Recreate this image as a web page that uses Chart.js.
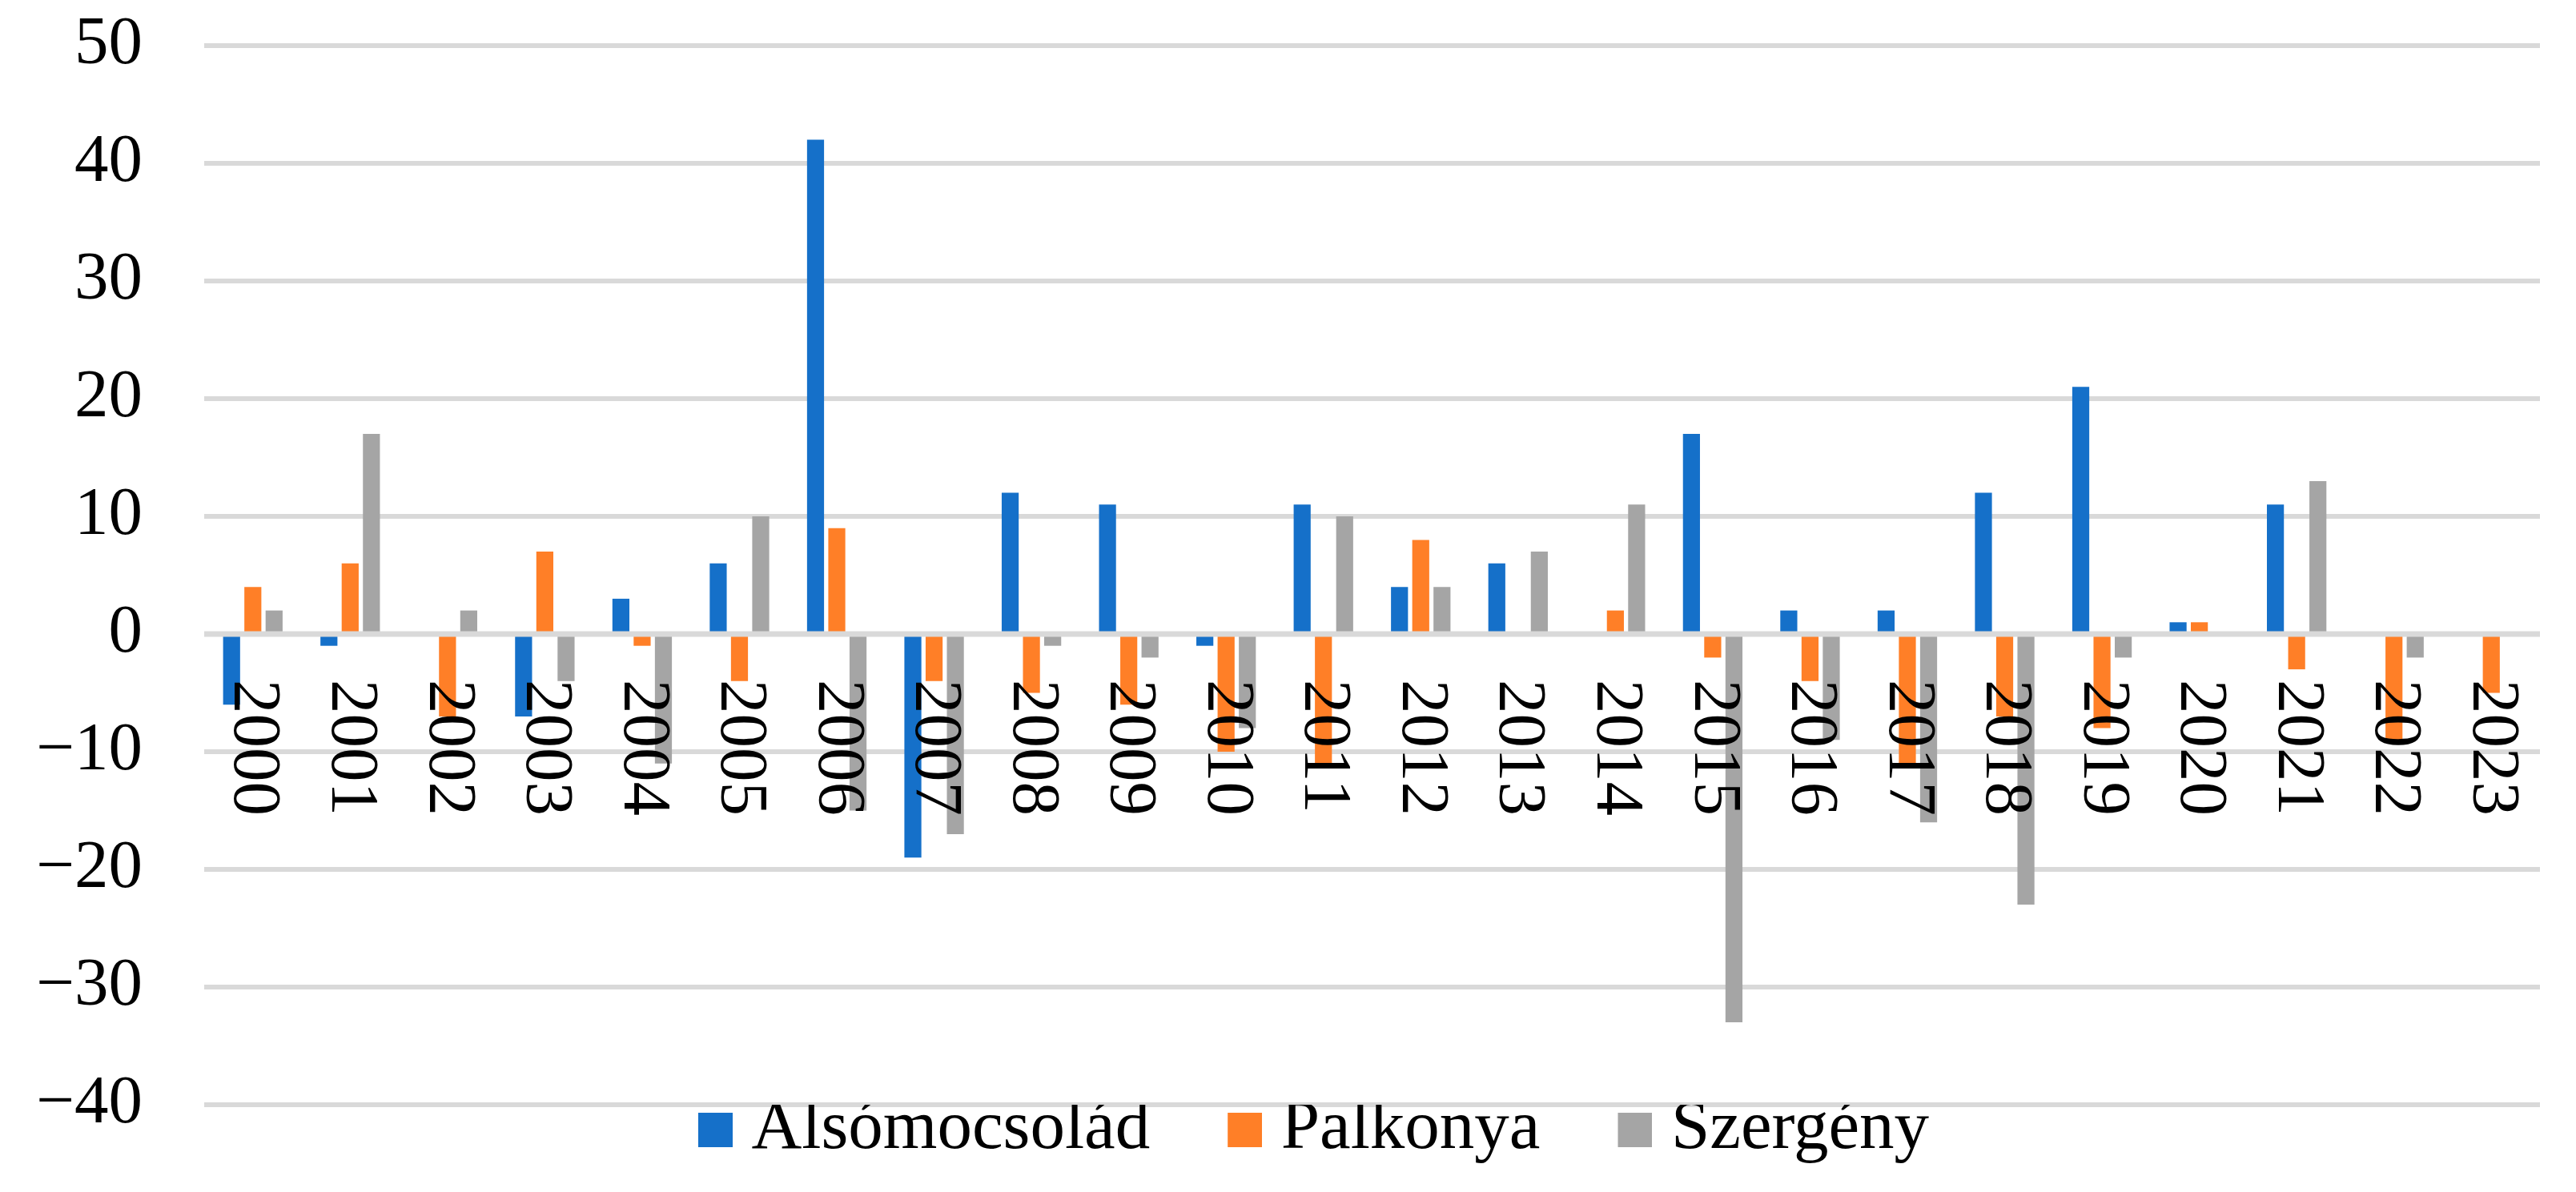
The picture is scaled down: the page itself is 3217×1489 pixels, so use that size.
<!DOCTYPE html>
<html>
<head>
<meta charset="utf-8">
<script src="https://cdn.jsdelivr.net/npm/chart.js@4.4.1/dist/chart.umd.min.js"></script>
<style>
html,body{margin:0;padding:0;background:#ffffff;}
#wrap{width:3217px;height:1489px;position:relative;}
</style>
</head>
<body>
<div id="wrap"><canvas id="c"></canvas></div>
<script>
const years = ['2000','2001','2002','2003','2004','2005','2006','2007','2008','2009','2010','2011',
               '2012','2013','2014','2015','2016','2017','2018','2019','2020','2021','2022','2023'];
const alsomocsolad = [-6, -1, 0, -7, 3, 6, 42, -19, 12, 11, -1, 11, 4, 6, 0, 17, 2, 2, 12, 21, 1, 11, 0, 0];
const palkonya     = [4, 6, -7, 7, -1, -4, 9, -4, -5, -6, -10, -11, 8, 0, 2, -2, -4, -11, -7, -8, 1, -3, -9, -5];
const szergeny     = [2, 17, 2, -4, -11, 10, -15, -17, -1, -2, -8, 10, 4, 7, 11, -33, -9, -16, -23, -2, 0, 13, -2, 0];
const seriesNames  = ['Alsómocsolád', 'Palkonya', 'Szergény'];
const yMin = -40, yMax = 50, yStep = 10;

const FONT = '"Liberation Serif", "Times New Roman", serif';
const GRID = '#D9D9D9';
const colors = ['#1570C9', '#FF7F27', '#A5A5A5'];

function swatch(color) {
  const c = document.createElement('canvas');
  c.width = 172; c.height = 43;
  const g = c.getContext('2d');
  g.fillStyle = color;
  g.fillRect(129, 0, 43, 43);
  return c;
}
const swatches = colors.map(swatch);

const xLabelPlugin = {
  id: 'xLabels',
  afterDatasetsDraw(chart) {
    const {ctx, chartArea, scales} = chart;
    const xs = scales.x, ys = scales.y;
    const y0 = ys.getPixelForValue(0);
    ctx.save();
    ctx.strokeStyle = GRID;
    ctx.lineWidth = 7;
    ctx.beginPath();
    ctx.moveTo(chartArea.left, y0);
    ctx.lineTo(chartArea.right, y0);
    ctx.stroke();
    ctx.fillStyle = '#000000';
    ctx.font = '85px ' + FONT;
    ctx.textAlign = 'left';
    ctx.textBaseline = 'middle';
    chart.data.labels.forEach((lab, i) => {
      const px = xs.getPixelForValue(i);
      ctx.save();
      ctx.translate(px, y0 + 57);
      ctx.rotate(Math.PI / 2);
      ctx.fillText(lab, 0, 0);
      ctx.restore();
    });
    ctx.restore();
  }
};

const ds = (label, data, color) => ({
  label, data,
  backgroundColor: color,
  borderWidth: 0,
  categoryPercentage: 0.655,
  barPercentage: 0.8
});

new Chart(document.getElementById('c'), {
  type: 'bar',
  data: {
    labels: years,
    datasets: [
      ds(seriesNames[0], alsomocsolad, colors[0]),
      ds(seriesNames[1], palkonya, colors[1]),
      ds(seriesNames[2], szergeny, colors[2])
    ]
  },
  options: {
    responsive: true,
    maintainAspectRatio: false,
    animation: false,
    devicePixelRatio: 1,
    layout: { padding: { top: 57, left: 0, right: 45, bottom: 24 } },
    plugins: {
      tooltip: { enabled: false },
      legend: {
        position: 'bottom',
        align: 'center',
        labels: {
          usePointStyle: true,
          pointStyleWidth: 132,
          padding: -12,
          color: '#000000',
          font: { family: FONT, size: 87 },
          generateLabels(chart) {
            const items = Chart.defaults.plugins.legend.labels.generateLabels(chart);
            items.forEach((it, i) => { it.pointStyle = swatches[i]; it.lineWidth = 0; });
            return items;
          }
        }
      }
    },
    scales: {
      x: {
        grid: { display: false },
        border: { display: false },
        ticks: { display: false },
        afterFit(s) { s.height = 0; }
      },
      y: {
        min: yMin,
        max: yMax,
        ticks: {
          stepSize: yStep,
          padding: 77,
          color: '#000000',
          font: { family: FONT, size: 85 },
          callback: v => (v < 0 ? '\u2212' + Math.abs(v) : String(v))
        },
        grid: { color: GRID, lineWidth: 6, drawTicks: false },
        border: { display: false },
        afterFit(s) { s.width = 255; s.paddingTop = 0; s.paddingBottom = 0; }
      }
    }
  },
  plugins: [xLabelPlugin]
});
</script>
</body>
</html>
